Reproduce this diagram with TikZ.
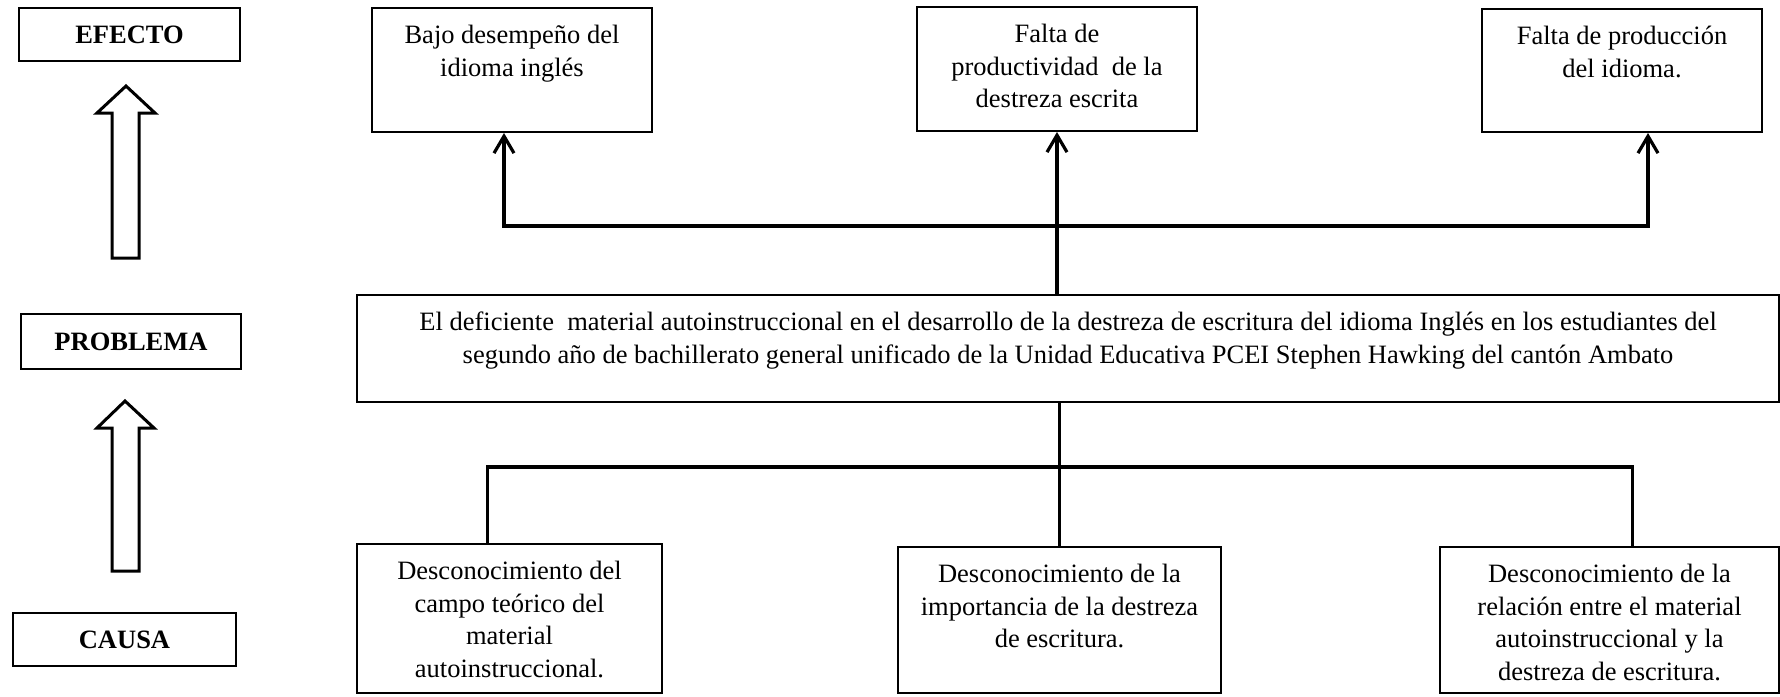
\documentclass[tikz,border=0pt]{standalone}
\usepackage{fontspec}
\setmainfont{Liberation Serif}
\usetikzlibrary{arrows.meta}
\newcommand{\tbox}[3]{\parbox[c][#2][t]{#1}{\centering\vspace*{13pt}\strut#3}}
\begin{document}
\begin{tikzpicture}[x=1pt,y=-1pt,
  txt/.style={draw, line width=2pt, inner sep=0pt, font=\fontsize{26.5}{32.5}\selectfont},
  lbl/.style={draw, line width=2pt, inner sep=0pt, font=\fontsize{26.5}{32.5}\selectfont\bfseries},
  hollow/.style={draw, line width=3pt, fill=white, line join=miter},
  conn/.style={line width=3.2pt, line join=miter},
  barb/.style={-{Straight Barb[length=17pt,width=20pt]}},
  barbs/.style={{Straight Barb[length=17pt,width=20pt]}-{Straight Barb[length=17pt,width=20pt]}}]
\useasboundingbox (0,0) rectangle (1780,696);
% side labels
\node[lbl, minimum width=221pt, minimum height=53pt] (efecto) at (129.5,34.5) {EFECTO};
\node[lbl, minimum width=220pt, minimum height=55pt] (problema) at (131,341.5) {PROBLEMA};
\node[lbl, minimum width=223pt, minimum height=53pt] (causa) at (124.5,639.5) {CAUSA};
% hollow arrows
\draw[hollow] (112,258) -- (112,113) -- (97,113) -- (126,86) -- (155,113) -- (139,113) -- (139,258) -- cycle;
\draw[hollow] (112,571) -- (112,428) -- (97,428) -- (125,401) -- (154,428) -- (139,428) -- (139,571) -- cycle;
% effects
\node[txt] (eff1) at (512,70) {\tbox{280pt}{124pt}{Bajo desempeño del\\idioma inglés}};
\node[txt] (eff2) at (1057,69) {\tbox{280pt}{124pt}{Falta de\\productividad\ \ de la\\destreza escrita}};
\node[txt] (eff3) at (1622,70.5) {\tbox{280pt}{123pt}{Falta de producción\\del idioma.}};
% problem
\node[txt] (main) at (1068,348.5) {\tbox{1422pt}{107pt}{El deficiente\ \ material autoinstruccional en el desarrollo de la destreza de escritura del idioma Inglés en los estudiantes del\\segundo año de bachillerato general unificado de la Unidad Educativa PCEI Stephen Hawking del cantón Ambato}};
% causes
\node[txt] (c1) at (509.5,618.5) {\tbox{305pt}{149pt}{Desconocimiento del\\campo teórico del\\material\\autoinstruccional.}};
\node[txt] (c2) at (1059.5,620) {\tbox{323pt}{146pt}{Desconocimiento de la\\importancia de la destreza\\de escritura.}};
\node[txt] (c3) at (1609.5,620) {\tbox{339pt}{146pt}{Desconocimiento de la\\relación entre el material\\autoinstruccional y la\\destreza de escritura.}};
% connector bars
\coordinate (topbar) at (0,226);
\coordinate (lowbar) at (0,467);
\draw[conn, barbs] ([xshift=-8pt]eff1.south) -- ([xshift=-8pt]eff1.south |- topbar) -- ([xshift=26pt]eff3.south |- topbar) -- ([xshift=26pt]eff3.south);
\draw[conn, barb] (eff2.south |- main.north) -- (eff2.south);
\draw[conn] (main.south -| c2.north) -- (c2.north);
\draw[conn] ([xshift=-22pt]c1.north) -- ([xshift=-22pt]c1.north |- lowbar) -- ([xshift=23pt]c3.north |- lowbar) -- ([xshift=23pt]c3.north);
\end{tikzpicture}
\end{document}
